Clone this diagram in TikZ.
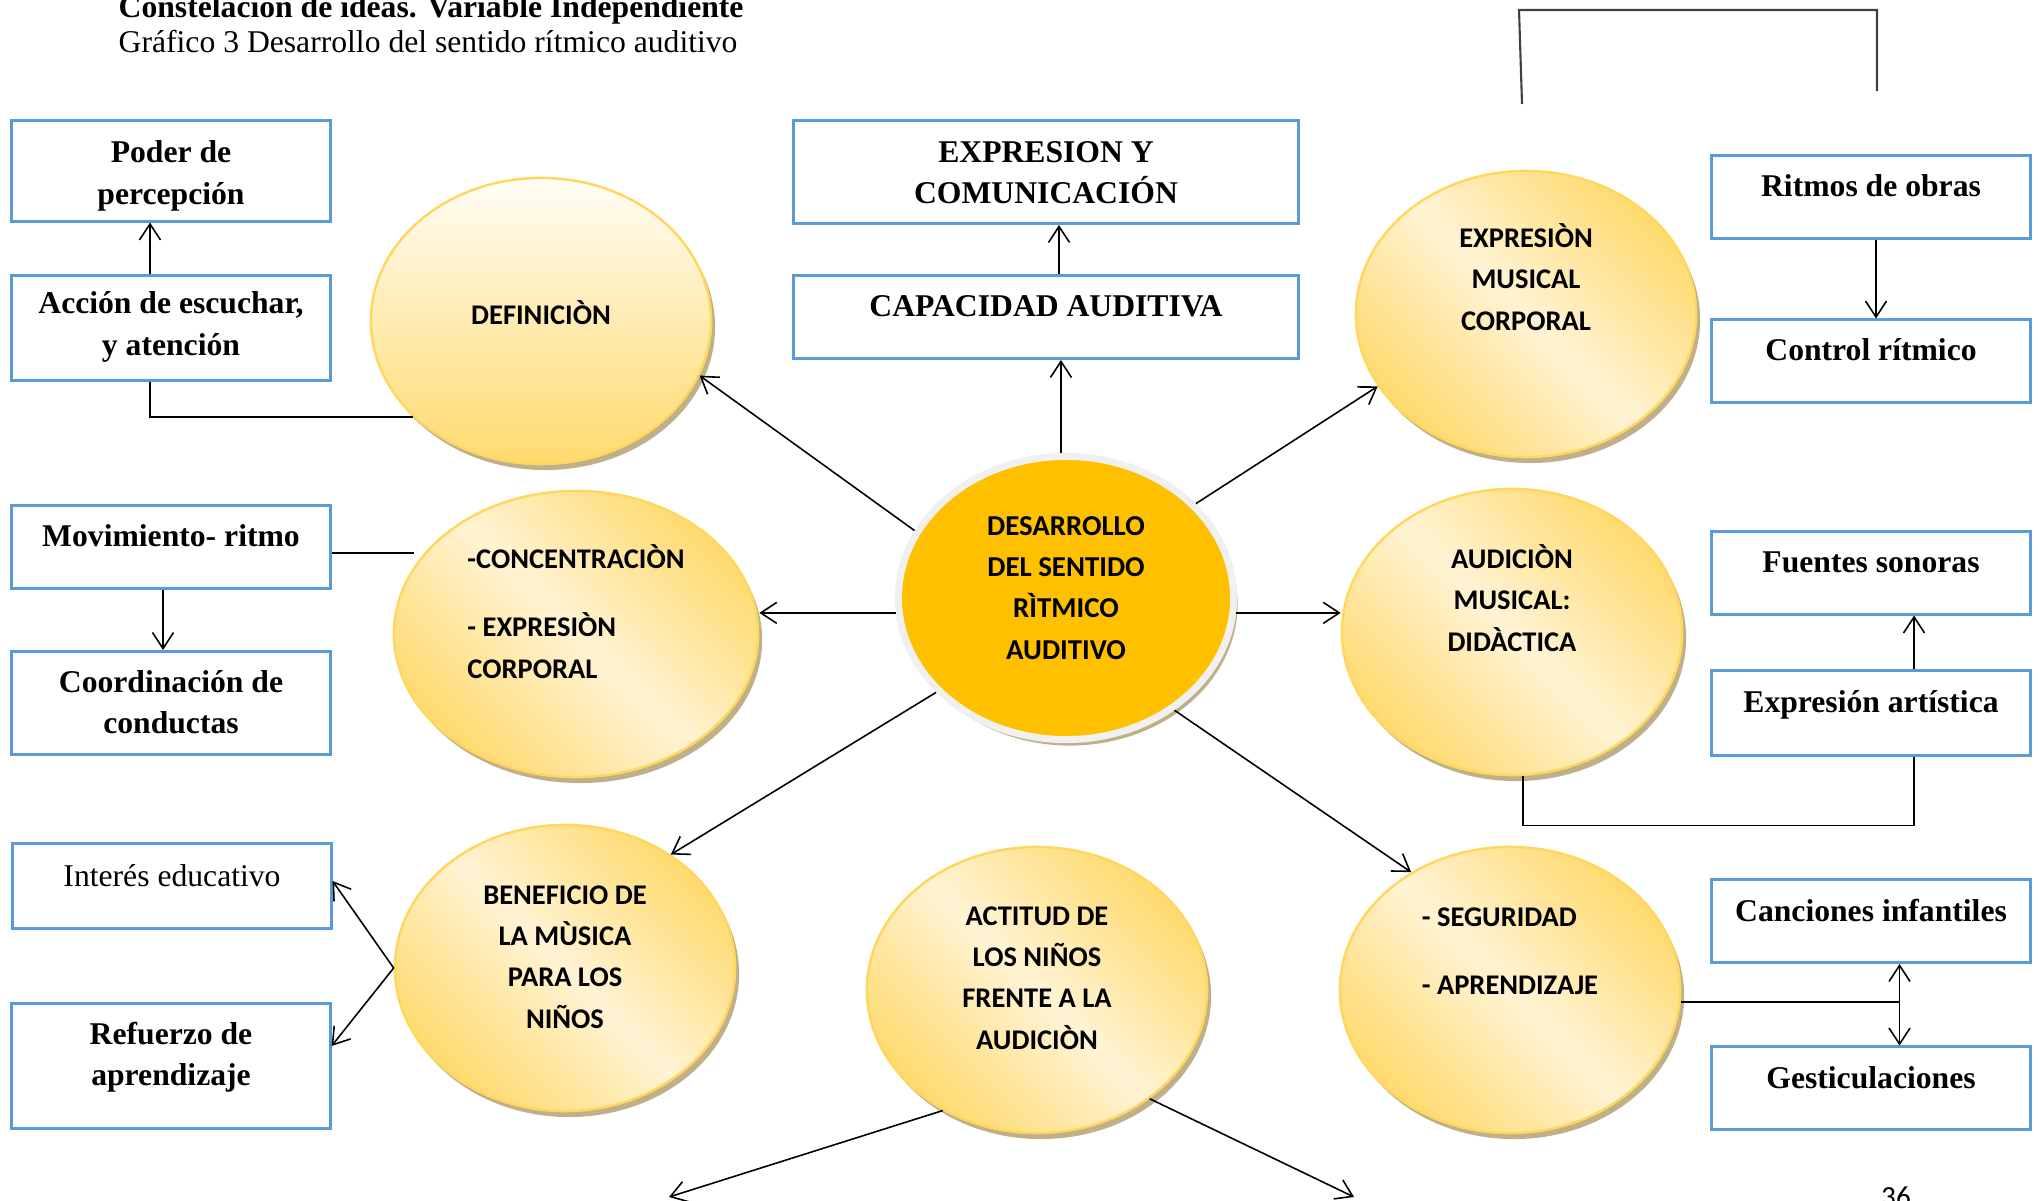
\documentclass[tikz,border=0pt]{standalone}
\usepackage{fontspec}
\setmainfont{Liberation Serif}
\newfontfamily\calibri{Carlito}
\usetikzlibrary{shapes.geometric,shadows,arrows.meta}

\definecolor{boxblue}{HTML}{5B9BD5}
\definecolor{goldedge}{HTML}{FFD75E}
\definecolor{golddark}{HTML}{FFDA6E}
\definecolor{goldlight}{HTML}{FFF3D4}
\definecolor{goldtop}{HTML}{FFFDF6}
\definecolor{shadowtan}{HTML}{BFB08A}
\definecolor{coreorange}{HTML}{FFC000}
\definecolor{coreedge}{HTML}{F0F0F0}

\begin{document}
\begin{tikzpicture}[x=0.01cm, y=-0.01cm, >={Straight Barb[length=1.6mm,width=2.1mm]},
  box/.style={rectangle, draw=boxblue, line width=0.85pt, fill=white, minimum width=3.18cm, inner ysep=0.5mm, align=center, font=\fontsize{9}{11.7}\selectfont\bfseries, text depth=0mm},
  onebox/.style={box, text height=2mm, text depth=2mm},
  bubble/.style={ellipse, draw=goldedge, line width=0.7pt, minimum width=3.4cm, minimum height=2.86cm, inner sep=0pt, align=center,
    left color=golddark, right color=golddark, middle color=goldlight, shading angle=-45,
    drop shadow={shadow xshift=0.04cm, shadow yshift=-0.06cm, fill=shadowtan, opacity=1},
    font=\calibri\bfseries\fontsize{8.1}{11.7}\selectfont, text depth=0mm},
  core/.style={ellipse, draw=coreedge, line width=2pt, fill=coreorange, minimum width=3.35cm, minimum height=2.83cm, inner sep=0pt, align=center,
    drop shadow={shadow xshift=0.04cm, shadow yshift=-0.06cm, fill=shadowtan, opacity=1},
    font=\calibri\bfseries\fontsize{8.2}{11.7}\selectfont, text depth=0mm},
  link/.style={line width=0.45pt}]
\useasboundingbox (0,0) rectangle (2040,1201);

  \node[anchor=base west, inner sep=0pt, font=\fontsize{9}{10}\selectfont\bfseries] (titulo) at (118,18) {Constelación de ideas. Variable Independiente};
  \node[anchor=base west, inner sep=0pt, font=\fontsize{9}{10}\selectfont] (grafico) at (118,53) {Gráfico 3 Desarrollo del sentido rítmico auditivo};

  % recuadros
  \node[box, minimum height=1cm, text height=6.6mm] (poder) at (171,171) {Poder de\\percepción};
  \node[box, minimum height=1.04cm, text height=5.4mm] (accion) at (171,328) {Acción de escuchar,\\y atención};
  \node[onebox, minimum height=0.82cm] (movimiento) at (171,547) {Movimiento- ritmo};
  \node[box, minimum height=1.03cm, text height=6.1mm] (coordinacion) at (171,703) {Coordinación de\\conductas};
  \node[onebox, minimum height=0.84cm, font=\fontsize{9}{11.7}\selectfont] (interes) at (172,886) {Interés educativo};
  \node[box, minimum height=1.25cm, text height=3.9mm] (refuerzo) at (171,1066) {Refuerzo de\\aprendizaje};
  \node[box, minimum width=5.04cm, minimum height=1.03cm, text height=6.3mm] (comunicacion) at (1046,172) {EXPRESION Y\\COMUNICACIÓN};
  \node[onebox, minimum width=5.04cm, minimum height=0.83cm] (capacidad) at (1046,317) {CAPACIDAD AUDITIVA};
  \node[onebox, minimum height=0.82cm] (ritmos) at (1871,197) {Ritmos de obras};
  \node[onebox, minimum height=0.82cm] (control) at (1871,361) {Control rítmico};
  \node[onebox, minimum height=0.82cm] (fuentes) at (1871,573) {Fuentes sonoras};
  \node[onebox, minimum height=0.84cm] (artistica) at (1871,713) {Expresión artística};
  \node[onebox, minimum height=0.83cm] (canciones) at (1871,921) {Canciones infantiles};
  \node[onebox, minimum height=0.82cm] (gestos) at (1871,1088) {Gesticulaciones};

  % elipses
  \node[bubble, top color=goldtop, bottom color=golddark, text height=2mm, text depth=1.2mm] (definicion) at (541,321) {DEFINICIÒN};
  \node[bubble, align=left, minimum width=3.64cm, text height=8.8mm] (concentracion) at (576,634) {-CONCENTRACIÒN\\[7.7pt]- EXPRESIÒN\\CORPORAL};
  \node[bubble, text height=12mm] (beneficio) at (565,968) {BENEFICIO DE\\LA MÙSICA\\PARA LOS\\NIÑOS};
  \node[bubble, text height=11.8mm] (actitud) at (1037,990) {ACTITUD DE\\LOS NIÑOS\\FRENTE A LA\\AUDICIÒN};
  \node[bubble, align=left, text height=0.8mm] (seguridad) at (1510,990) {- SEGURIDAD\\[7.6pt]- APRENDIZAJE};
  \node[bubble, text height=3.8mm] (audicion) at (1512,632) {AUDICIÒN\\MUSICAL:\\DIDÀCTICA};
  \node[bubble, text height=3.2mm] (musical) at (1526,314) {EXPRESIÒN\\MUSICAL\\CORPORAL};
  \node[core, text height=12.2mm] (centro) at (1066,598) {DESARROLLO\\DEL SENTIDO\\RÌTMICO\\AUDITIVO};

  \node[anchor=base, font=\calibri\fontsize{8.3}{10}\selectfont] (pagina) at (1896,1206) {36};

  % conectores
  \draw[link, ->] (centro.156) -- (definicion.-19);
  \draw[link, ->] (centro.92) -- (centro.92 |- capacidad.south);
  \draw[link, ->] (centro.36) -- (musical.206);
  \draw[link, ->] (centro.185) -- (centro.185 -| concentracion.east);
  \draw[link, ->] (centro.-5) -- (centro.-5 -| audicion.west);
  \draw[link, ->] (centro.216) -- (beneficio.47);
  \draw[link, ->] (centro.-46) -- (seguridad.130);

  \coordinate (abajoizq) at (669,1197);
  \coordinate (abajoder) at (1354,1197);
  \draw[link, ->] (actitud.232) -- (abajoizq);
  \draw[link, ->] (actitud.-44) -- (abajoder);

  \draw[link, ->] ([xshift=0.13cm]capacidad.north) -- ([xshift=0.13cm]comunicacion.south);
  \draw[link, ->] ([xshift=-0.21cm]accion.north) -- ([xshift=-0.21cm]poder.south);
  \coordinate (accpie) at ([xshift=-0.21cm]accion.south);
  \draw[link] (definicion.217) -| (accpie);

  \draw[link] ([yshift=-0.06cm]movimiento.east) -- ++(82,0);
  \draw[link, ->] ([xshift=-0.08cm]movimiento.south) -- ([xshift=-0.08cm]coordinacion.north);

  \draw[link, ->] (beneficio.west) -- ([yshift=0.05cm]interes.east);
  \draw[link, ->] (beneficio.west) -- ([yshift=0.2cm]refuerzo.east);

  \draw[link, ->] ([xshift=0.05cm]ritmos.south) -- ([xshift=0.05cm]control.north);

  \coordinate (artpie) at ([xshift=0.43cm]artistica.south);
  \draw[link] ([xshift=0.11cm]audicion.south) -- ++(0,49) -| (artpie);
  \draw[link, ->] ([xshift=0.43cm]artistica.north) -- ([xshift=0.43cm]fuentes.south);

  \coordinate (cancpie) at ([xshift=0.285cm]canciones.south);
  \draw[link] (seguridad.-4) -- (seguridad.-4 -| cancpie);
  \draw[link, <->] (cancpie) -- (cancpie |- gestos.north);

  \coordinate (arriba1) at (1522,104);
  \coordinate (arriba2) at (1519,10);
  \coordinate (arriba3) at (1877,10);
  \coordinate (arriba4) at (1877,91);
  \draw[link, draw=black!75, line width=0.6pt] (arriba1) -- (arriba2) -- (arriba3) -- (arriba4);
\end{tikzpicture}
\end{document}
